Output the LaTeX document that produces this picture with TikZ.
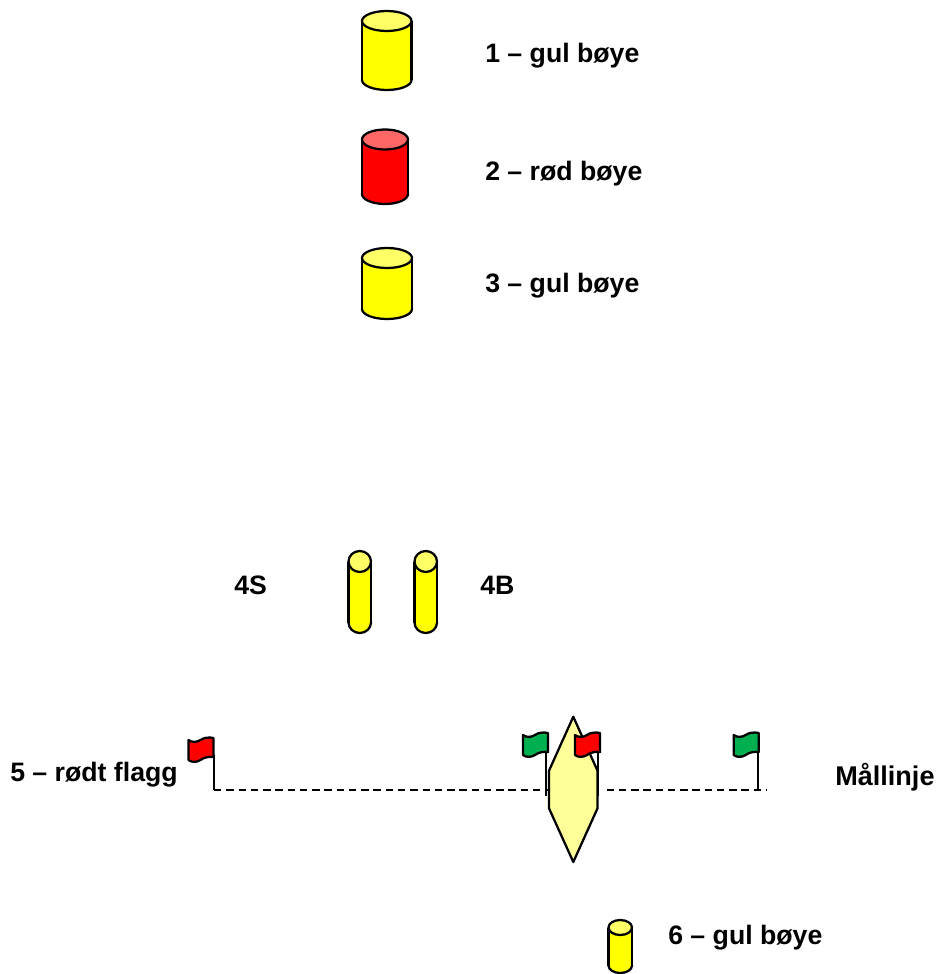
\documentclass[tikz,border=0pt]{standalone}
\usepackage{fontspec}
\setmainfont{Liberation Sans}
\definecolor{flaggreen}{HTML}{00B050}
\definecolor{boatfill}{HTML}{FFFF99}
\definecolor{buoyyellow}{HTML}{FFFF00}
\definecolor{buoyred}{HTML}{FF0000}
\definecolor{lightyellow}{HTML}{FFFF66}
\definecolor{lightred}{HTML}{FF6666}
\tikzset{
  lbl/.style={font=\fontsize{20pt}{24pt}\selectfont\bfseries,anchor=base west,inner sep=0pt},
  outline/.style={draw=black,line width=1.7pt,line join=round},
  pole/.style={draw=black,line width=1.5pt}
}
\newcommand{\cyl}[7]{% left, right, top, ellipse ry, bottom, body colour, top colour
  \path[outline,fill=#6] ({(#1+#2)/2},#5-#4) ellipse[x radius={(#2-#1)/2},y radius=#4];
  \fill[#6] (#1,#3+#4) rectangle (#2,#5-#4);
  \draw[outline] (#1,#3+#4) -- (#1,#5-#4) (#2,#3+#4) -- (#2,#5-#4);
  \path[outline,fill=#7] ({(#1+#2)/2},#3+#4) ellipse[x radius={(#2-#1)/2},y radius=#4];
}
\newcommand{\flag}[5]{% left, top, pole bottom, colour, pole x
  \draw[pole] (#5,#2+18) -- (#5,#3);
  \path[outline,fill=#4] (#1,#2+3)
     .. controls (#1+3,#2+5.5) and (#1+8,#2+5.5) .. (#1+12,#2+3)
     .. controls (#1+15,#2+0.5) and (#1+21,#2+0) .. (#1+25,#2+1)
     -- (#1+25,#2+20)
     .. controls (#1+21,#2+19.5) and (#1+16,#2+20) .. (#1+12,#2+23)
     .. controls (#1+8,#2+25.5) and (#1+3,#2+25.5) .. (#1,#2+23) -- cycle;
}
\begin{document}
\begin{tikzpicture}[x=0.75pt,y=-0.75pt]
\useasboundingbox (0,0) rectangle (940,974);
\cyl{362}{411.5}{11}{10}{90}{buoyyellow}{lightyellow}
\cyl{362}{408}{129.5}{10}{204}{buoyred}{lightred}
\cyl{362}{412}{248}{10}{319}{buoyyellow}{lightyellow}
\cyl{348.5}{371}{551}{10.5}{633}{buoyyellow}{lightyellow}
\cyl{414.5}{437}{551}{10.5}{633}{buoyyellow}{lightyellow}
\cyl{608.5}{632}{920}{7.5}{973}{buoyyellow}{lightyellow}
\coordinate (lineL) at (214,790);
\coordinate (lineR) at (767,790);
\draw[line width=1.2pt,dash pattern=on 5.6pt off 3.6pt] (lineL) -- (lineR);
\flag{188.5}{737}{790}{buoyred}{214}
\flag{523}{732}{796}{flaggreen}{546.3}
\flag{733.7}{732}{790}{flaggreen}{758.4}
\fill[white] (599,785) rectangle (605,795);
\draw[pole] (598.4,750) -- (598.4,796);
\path[outline,fill=boatfill] (573.3,716.7) -- (597.5,770.7) -- (597.5,808.3) -- (573.3,862) -- (549,808.3) -- (549,770.7) -- cycle;
\flag{575}{732}{770}{buoyred}{598.4}
\node[lbl] (t1) at (485,63) {1 – gul bøye};
\node[lbl] (t2) at (485,180) {2 – rød bøye};
\node[lbl] (t3) at (485,292) {3 – gul bøye};
\node[lbl] (t4s) at (234,594) {4S};
\node[lbl] (t4b) at (480,594) {4B};
\node[lbl] (t5) at (10,781) {5 – rødt flagg};
\node[lbl,font=\fontsize{20.3pt}{24pt}\selectfont\bfseries] (tm) at (835,785) {Mållinje};
\node[lbl] (t6) at (668,944) {6 – gul bøye};
\end{tikzpicture}
\end{document}
